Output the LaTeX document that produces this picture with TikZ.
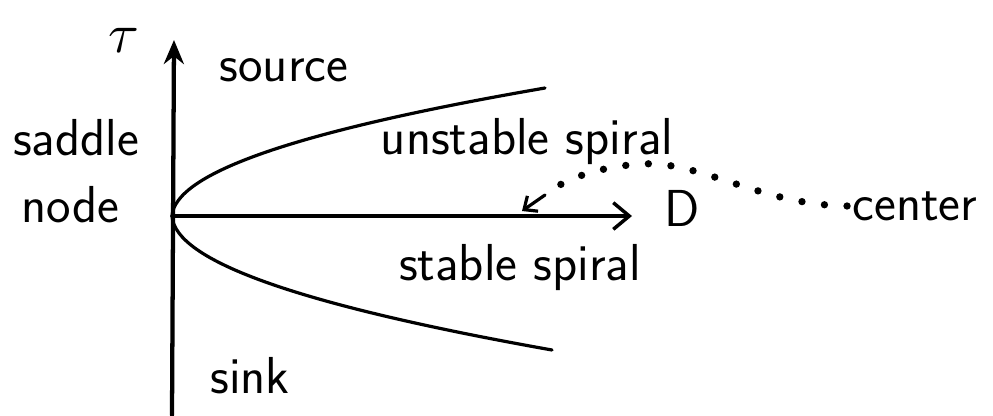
\documentclass[tikz,border=0pt]{standalone}
\usetikzlibrary{arrows.meta}
\begin{document}
\begin{tikzpicture}[x=0.75pt,y=-0.75pt,
  hand/.style={line width=2.4pt, line cap=round, line join=round},
  axis/.style={line width=3.2pt, line cap=round},
  lbl/.style={font=\sffamily\fontsize{39}{42}\selectfont, inner sep=0pt},
  dots/.style={line width=5.5pt, line cap=round, dash pattern=on 0pt off 17pt}]
\useasboundingbox (0,0) rectangle (993,415);
% axes
\coordinate (o) at (172,216);
\coordinate (ybot) at (172,415);
\coordinate (ytop) at (174,40);
\coordinate (xend) at (632,216);
\draw[axis, -{Stealth[length=18pt,width=15pt]}] (ybot) -- (ytop);
\draw[hand, -{Straight Barb[length=12pt,width=20pt,line width=2.6pt]}] (o) -- (xend);
% parabola
\coordinate (up) at (545,88);
\coordinate (lo) at (552,350);
\draw[hand] (o) .. controls (175,173) and (296,131) .. (up);
\draw[hand] (o) .. controls (175,261) and (299,305) .. (lo);
% labels
\node[inner sep=0pt, scale=4.2] (tau) at (124,40) {$\tau$};
\node[lbl] (source) at (284,70) {source};
\node[lbl] (saddle) at (76,138) {saddle};
\node[lbl] (node) at (70,205) {node};
\node[lbl] (us) at (527,142) {unstable spiral};
\node[lbl] (D) at (682,208) {D};
\node[lbl] (center) at (915,206) {center};
\node[lbl] (ss) at (520,268) {stable spiral};
\node[lbl] (sink) at (250,376) {sink};
% dotted curve from center towards the spirals
\coordinate (dend) at (522,211);
\draw[dots] ([xshift=-4pt]center.west) .. controls (760,205) and (700,160) .. (640,164)
  .. controls (600,167) and (565,178) .. (545,195);
\draw[hand, -{Straight Barb[length=8pt,width=14pt,line width=2.4pt]}] (545,195) -- (dend);
\end{tikzpicture}
\end{document}
